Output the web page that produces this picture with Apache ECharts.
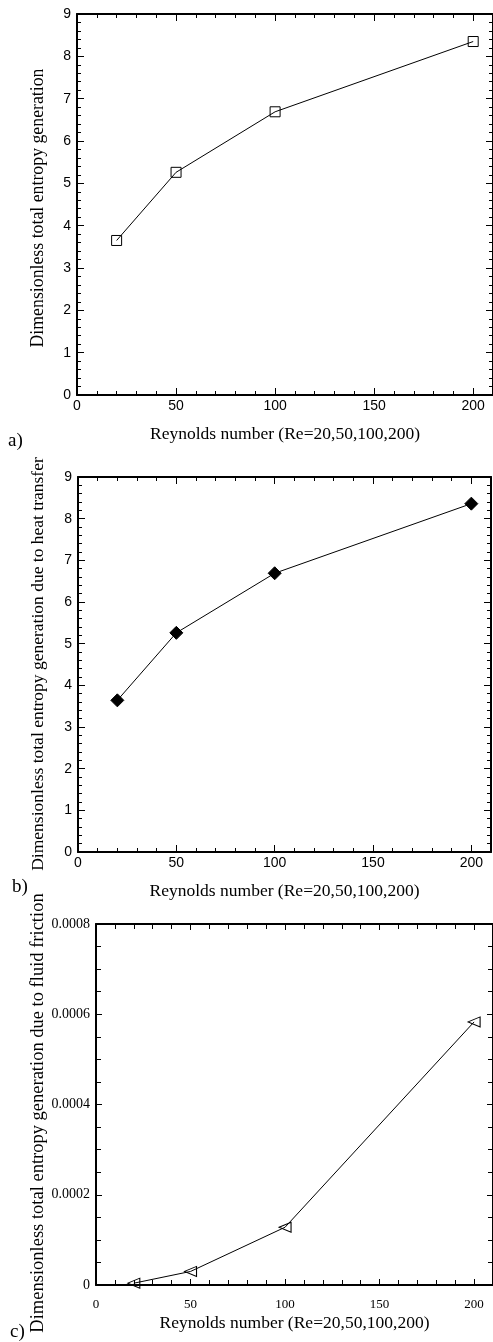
<!DOCTYPE html>
<html>
<head>
<meta charset="utf-8">
<title>Entropy generation vs Reynolds number</title>
<script src="https://cdn.jsdelivr.net/npm/echarts@6/dist/echarts.min.js"></script>
<style>
  html, body { margin: 0; padding: 0; background: #fff; }
  #chart { width: 493px; height: 1342px; }
</style>
</head>
<body>
<div id="chart"></div>
<script>
// Reynolds numbers simulated
const reynolds = [20, 50, 100, 200];
// a) dimensionless total entropy generation
const totalEntropy = [3.65, 5.26, 6.69, 8.35];
// b) part due to heat transfer
const heatTransferEntropy = [3.64, 5.26, 6.69, 8.36];
// c) part due to fluid friction
const frictionEntropy = [0.000004, 0.00003, 0.000128, 0.000583];

// axis ranges and tick steps
const xRange = [0, 210];
const xMajorStep = 50;
const xMinorStep = 10;
const entropyRange = [0, 9];
const entropyStep = 1;
const frictionRange = [0, 0.0008];
const frictionStep = 0.0002;

const xTitle = 'Reynolds number (Re=20,50,100,200)';
const yTitles = [
  'Dimensionless total entropy generation',
  'Dimensionless total entropy generation due to heat transfer',
  'Dimensionless total entropy generation due to fluid friction'
];
const panelLetters = ['a)', 'b)', 'c)'];

const SANS = '"Liberation Sans", Arial, sans-serif';
const SERIF = '"Liberation Serif", "Times New Roman", serif';

const panels = [
  { grid: { left: 77, top: 14, right: 0, height: 381 }, yRange: entropyRange, yStep: entropyStep, ySplit: 5,
    tickFont: SANS, tickSize: 14, xLabelSize: 14, xMargin: 4, yMargin: 6, majorLen: 7, minorLen: 4, nameGap: 30,
    data: totalEntropy, symbol: 'rect', symbolSize: 10, filled: false, rotate: 0,
    yTitle: { x: 38, y: 208, size: 17.8 }, letter: { left: 8, top: 432 } },
  { grid: { left: 78, top: 477, right: 2, height: 375 }, yRange: entropyRange, yStep: entropyStep, ySplit: 5,
    tickFont: SANS, tickSize: 14, xLabelSize: 14, xMargin: 4, yMargin: 6, majorLen: 7, minorLen: 4, nameGap: 30,
    data: heatTransferEntropy, symbol: 'diamond', symbolSize: 13, filled: true, rotate: 0,
    yTitle: { x: 38, y: 664, size: 17.5 }, letter: { left: 12, top: 878 } },
  { grid: { left: 96, top: 924, right: -2, height: 361 }, yRange: frictionRange, yStep: frictionStep, ySplit: 4,
    tickFont: SERIF, tickSize: 14, xLabelSize: 13, xMargin: 13, yMargin: 6, majorLen: 6, minorLen: 5, nameGap: 29,
    data: frictionEntropy, symbol: 'triangle', symbolSize: [10, 12], filled: false, rotate: 90,
    yTitle: { x: 38, y: 1113, size: 18.5 }, letter: { left: 10, top: 1323 } }
];

const grids = [], xAxes = [], yAxes = [], series = [], graphics = [];

panels.forEach((p, i) => {
  grids.push(p.grid);
  const lineStyle = { color: '#000', width: 2 };
  const baseX = { type: 'value', gridIndex: i, min: xRange[0], max: xRange[1], splitLine: { show: false } };

  // bottom axis: major ticks, labels, title
  const mainIndex = xAxes.length;
  xAxes.push(Object.assign({}, baseX, {
    position: 'bottom', interval: xMajorStep,
    axisLine: { show: true, onZero: false, lineStyle },
    axisTick: { show: true, inside: true, length: p.majorLen, lineStyle: { color: '#000', width: 1 } },
    axisLabel: { color: '#000', fontFamily: p.tickFont, fontSize: p.xLabelSize, margin: p.xMargin,
      showMaxLabel: false, formatter: v => (v % xMajorStep === 0 ? String(v) : '') },
    name: xTitle, nameLocation: 'middle', nameGap: p.nameGap,
    nameTextStyle: { color: '#000', fontFamily: SERIF, fontSize: 17.5 }
  }));
  // bottom axis: minor ticks
  xAxes.push(Object.assign({}, baseX, {
    position: 'bottom', interval: xMinorStep,
    axisLine: { show: false, onZero: false },
    axisTick: { show: true, inside: true, length: p.minorLen, lineStyle: { color: '#000', width: 1 } },
    axisLabel: { show: false }
  }));
  // top border with mirrored ticks
  xAxes.push(Object.assign({}, baseX, {
    position: 'top', interval: xMajorStep,
    axisLine: { show: true, onZero: false, lineStyle },
    axisTick: { show: true, inside: true, length: p.majorLen, lineStyle: { color: '#000', width: 1 } },
    axisLabel: { show: false }
  }));
  xAxes.push(Object.assign({}, baseX, {
    position: 'top', interval: xMinorStep,
    axisLine: { show: false, onZero: false },
    axisTick: { show: true, inside: true, length: p.minorLen, lineStyle: { color: '#000', width: 1 } },
    axisLabel: { show: false }
  }));

  const baseY = { type: 'value', gridIndex: i, min: p.yRange[0], max: p.yRange[1], interval: p.yStep,
    splitLine: { show: false }, minorSplitLine: { show: false },
    axisLine: { show: true, onZero: false, lineStyle },
    axisTick: { show: true, inside: true, length: p.majorLen, lineStyle: { color: '#000', width: 1 } },
    minorTick: { show: true, splitNumber: p.ySplit, length: p.minorLen, lineStyle: { color: '#000', width: 1 } } };

  const yIndex = yAxes.length;
  yAxes.push(Object.assign({}, baseY, {
    position: 'left',
    axisLabel: { color: '#000', fontFamily: p.tickFont, fontSize: p.tickSize, margin: p.yMargin }
  }));
  yAxes.push(Object.assign({}, baseY, { position: 'right', axisLabel: { show: false } }));

  series.push({
    type: 'line', xAxisIndex: mainIndex, yAxisIndex: yIndex,
    data: reynolds.map((r, k) => [r, p.data[k]]),
    symbol: p.symbol, symbolSize: p.symbolSize, symbolRotate: p.rotate, showAllSymbol: true,
    lineStyle: { color: '#000', width: 1 },
    itemStyle: { color: p.filled ? '#000' : 'rgba(0,0,0,0)', borderColor: '#000', borderWidth: 1 },
    animation: false, silent: true, z: 3
  });

  // vertical y-axis title, reading bottom to top
  graphics.push({ type: 'text', x: p.yTitle.x, y: p.yTitle.y, rotation: Math.PI / 2,
    style: { text: yTitles[i], fill: '#000', font: p.yTitle.size + 'px ' + SERIF,
      align: 'center', verticalAlign: 'middle' } });

  graphics.push({ type: 'text', left: p.letter.left, top: p.letter.top,
    style: { text: panelLetters[i], fill: '#000', font: '19px ' + SERIF } });
});

const chart = echarts.init(document.getElementById('chart'), null, { renderer: 'canvas' });
chart.setOption({
  backgroundColor: '#fff',
  animation: false,
  grid: grids,
  xAxis: xAxes,
  yAxis: yAxes,
  series: series,
  graphic: graphics
});
</script>
</body>
</html>
